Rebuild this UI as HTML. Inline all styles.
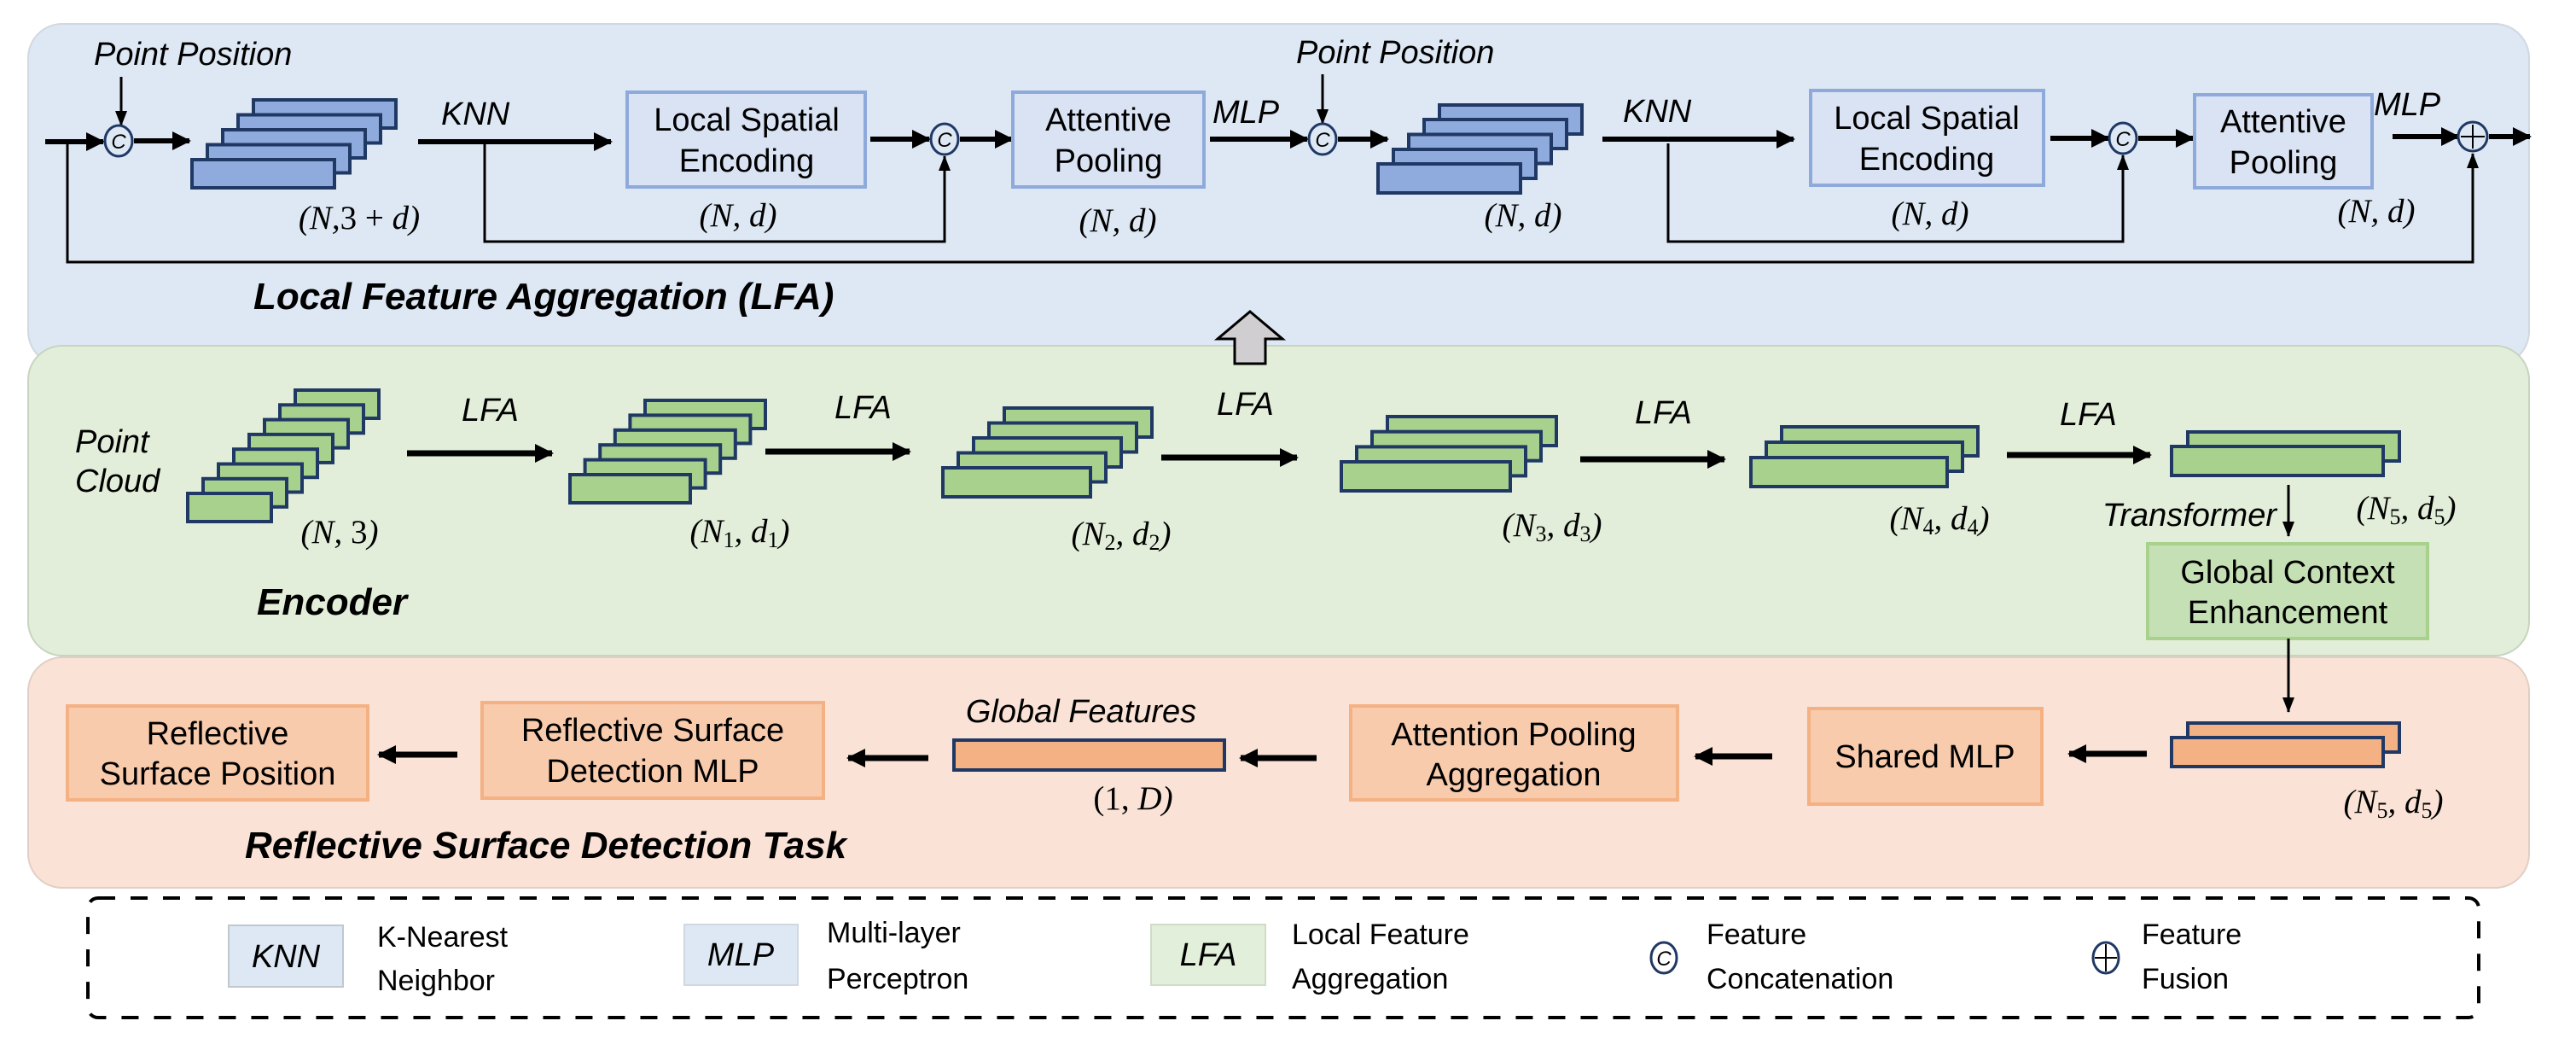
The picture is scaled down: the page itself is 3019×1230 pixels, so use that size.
<!DOCTYPE html>
<html><head><meta charset="utf-8"><style>
html,body{margin:0;padding:0;background:#fff}
svg{display:block}
text{font-family:"Liberation Sans",sans-serif;fill:#000}
.t{font-size:38px}
.l{font-size:34px}
.i{font-size:38px;font-style:italic}
.b{font-size:44px;font-style:italic;font-weight:bold}
.m{font-family:"Liberation Serif",serif;font-size:39px;font-style:italic}
.u{font-style:normal}
</style></head><body>
<svg width="3019" height="1230" viewBox="0 0 3019 1230" xmlns="http://www.w3.org/2000/svg">
<defs>
<marker id="a" markerUnits="userSpaceOnUse" markerWidth="24" markerHeight="24" refX="20" refY="12" orient="auto"><path d="M0,1 L22,12 L0,23 Z" fill="#000"/></marker>
<marker id="s" markerUnits="userSpaceOnUse" markerWidth="18" markerHeight="18" refX="17" refY="9" orient="auto"><path d="M0,2 L18,9 L0,16 Z" fill="#000"/></marker>
</defs>
<!-- panels -->
<rect x="33" y="28" width="2931" height="400" rx="40" fill="#dee8f4" stroke="#d0d8e0" stroke-width="2"/>
<rect x="33" y="405" width="2931" height="363" rx="40" fill="#e2eed9" stroke="#c8d4c0" stroke-width="2"/>
<rect x="33" y="770" width="2931" height="270" rx="40" fill="#fae3d6" stroke="#e0cfc6" stroke-width="2"/>
<rect x="103" y="1052" width="2802" height="140" rx="12" fill="none" stroke="#000" stroke-width="4" stroke-dasharray="20 18"/>

<!-- ===== LFA top ===== -->
<text class="i" x="110" y="76">Point Position</text>
<line x1="142" y1="90" x2="142" y2="147" stroke="#000" stroke-width="3" marker-end="url(#s)"/>
<line x1="53" y1="166" x2="121" y2="166" stroke="#000" stroke-width="6" marker-end="url(#a)"/>
<polyline points="79,166 79,307 2898,307 2898,180" fill="none" stroke="#000" stroke-width="3" marker-end="url(#s)"/>
<ellipse cx="139" cy="165" rx="16" ry="18" fill="#dee8f4" stroke="#1f3864" stroke-width="3"/>
<text x="139" y="174" font-size="24" font-style="italic" text-anchor="middle">C</text>
<line x1="157" y1="165" x2="222" y2="165" stroke="#000" stroke-width="6" marker-end="url(#a)"/>
<g fill="#8faadc" stroke="#1f3864" stroke-width="4">
<rect x="297" y="117" width="167" height="33"/><rect x="279" y="134.5" width="167" height="33"/><rect x="261" y="152" width="167" height="33"/><rect x="243" y="169.5" width="167" height="33"/><rect x="225" y="187" width="167" height="33"/>
</g>
<text class="m" x="421" y="268" text-anchor="middle">(N,<tspan class="u">3 + </tspan>d)</text>
<text class="i" x="517" y="146">KNN</text>
<line x1="490" y1="166" x2="716" y2="166" stroke="#000" stroke-width="6" marker-end="url(#a)"/>
<polyline points="568,168 568,283 1107,283 1107,183" fill="none" stroke="#000" stroke-width="3" marker-end="url(#s)"/>
<rect x="735" y="108" width="279" height="111" fill="#dae3f3" stroke="#8eaadb" stroke-width="4"/>
<text class="t" x="875" y="153" text-anchor="middle">Local Spatial</text>
<text class="t" x="875" y="201" text-anchor="middle">Encoding</text>
<text class="m" x="865" y="265" text-anchor="middle">(N, d)</text>
<line x1="1020" y1="163" x2="1089" y2="163" stroke="#000" stroke-width="6" marker-end="url(#a)"/>
<ellipse cx="1107" cy="163" rx="16" ry="18" fill="#dee8f4" stroke="#1f3864" stroke-width="3"/>
<text x="1107" y="172" font-size="24" font-style="italic" text-anchor="middle">C</text>
<line x1="1125" y1="163" x2="1186" y2="163" stroke="#000" stroke-width="6" marker-end="url(#a)"/>
<rect x="1187" y="108" width="224" height="111" fill="#dae3f3" stroke="#8eaadb" stroke-width="4"/>
<text class="t" x="1299" y="153" text-anchor="middle">Attentive</text>
<text class="t" x="1299" y="201" text-anchor="middle">Pooling</text>
<text class="m" x="1310" y="271" text-anchor="middle">(N, d)</text>
<text class="i" x="1421" y="144">MLP</text>
<line x1="1418" y1="163" x2="1532" y2="163" stroke="#000" stroke-width="6" marker-end="url(#a)"/>
<text class="i" x="1519" y="74">Point Position</text>
<line x1="1550" y1="87" x2="1550" y2="145" stroke="#000" stroke-width="3" marker-end="url(#s)"/>
<ellipse cx="1550" cy="163" rx="16" ry="18" fill="#dee8f4" stroke="#1f3864" stroke-width="3"/>
<text x="1550" y="172" font-size="24" font-style="italic" text-anchor="middle">C</text>
<line x1="1568" y1="163" x2="1626" y2="163" stroke="#000" stroke-width="6" marker-end="url(#a)"/>
<g fill="#8faadc" stroke="#1f3864" stroke-width="4">
<rect x="1687" y="123" width="167" height="34"/><rect x="1669" y="140" width="167" height="34"/><rect x="1651" y="157.5" width="167" height="34"/><rect x="1633" y="175" width="167" height="34"/><rect x="1615" y="192" width="167" height="34"/>
</g>
<text class="m" x="1785" y="265" text-anchor="middle">(N, d)</text>
<text class="i" x="1902" y="143">KNN</text>
<line x1="1878" y1="163" x2="2102" y2="163" stroke="#000" stroke-width="6" marker-end="url(#a)"/>
<polyline points="1955,168 1955,283 2488,283 2488,182" fill="none" stroke="#000" stroke-width="3" marker-end="url(#s)"/>
<rect x="2122" y="106" width="273" height="111" fill="#dae3f3" stroke="#8eaadb" stroke-width="4"/>
<text class="t" x="2258" y="151" text-anchor="middle">Local Spatial</text>
<text class="t" x="2258" y="199" text-anchor="middle">Encoding</text>
<text class="m" x="2262" y="263" text-anchor="middle">(N, d)</text>
<line x1="2403" y1="162" x2="2471" y2="162" stroke="#000" stroke-width="6" marker-end="url(#a)"/>
<ellipse cx="2488" cy="162" rx="16" ry="18" fill="#dee8f4" stroke="#1f3864" stroke-width="3"/>
<text x="2488" y="171" font-size="24" font-style="italic" text-anchor="middle">C</text>
<line x1="2506" y1="162" x2="2570" y2="162" stroke="#000" stroke-width="6" marker-end="url(#a)"/>
<rect x="2572" y="111" width="208" height="109" fill="#dae3f3" stroke="#8eaadb" stroke-width="4"/>
<text class="t" x="2676" y="155" text-anchor="middle">Attentive</text>
<text class="t" x="2676" y="203" text-anchor="middle">Pooling</text>
<text class="m" x="2785" y="260" text-anchor="middle">(N, d)</text>
<text class="i" x="2782" y="135">MLP</text>
<line x1="2804" y1="160" x2="2881" y2="160" stroke="#000" stroke-width="6" marker-end="url(#a)"/>
<circle cx="2898" cy="160" r="17" fill="#dee8f4" stroke="#1f3864" stroke-width="3"/>
<line x1="2884" y1="160" x2="2912" y2="160" stroke="#000" stroke-width="2"/>
<line x1="2898" y1="146" x2="2898" y2="174" stroke="#000" stroke-width="2"/>
<line x1="2917" y1="160" x2="2965" y2="160" stroke="#000" stroke-width="6" marker-end="url(#a)"/>
<text class="b" x="297" y="362">Local Feature Aggregation (LFA)</text>
<path d="M1465,365 L1503,397 L1483,397 L1483,426 L1447,426 L1447,397 L1427,397 Z" fill="#d0ced0" stroke="#000" stroke-width="3"/>

<!-- ===== Encoder ===== -->
<text class="i" x="88" y="530">Point</text>
<text class="i" x="88" y="576">Cloud</text>
<g fill="#a9d18e" stroke="#1f3864" stroke-width="4">
<rect x="346" y="457" width="98" height="33"/><rect x="328" y="474.3" width="98" height="33"/><rect x="310" y="491.6" width="98" height="33"/><rect x="292" y="508.9" width="98" height="33"/><rect x="274" y="526.2" width="98" height="33"/><rect x="256" y="543.5" width="98" height="33"/><rect x="238" y="560.8" width="98" height="33"/><rect x="220" y="578" width="98" height="33"/>
</g>
<text class="m" x="398" y="636" text-anchor="middle">(N, <tspan class="u">3</tspan>)</text>
<text class="i" x="541" y="493">LFA</text>
<line x1="477" y1="531" x2="647" y2="531" stroke="#000" stroke-width="7" marker-end="url(#a)"/>
<g fill="#a9d18e" stroke="#1f3864" stroke-width="4">
<rect x="756" y="469" width="141" height="33"/><rect x="738.4" y="486.4" width="141" height="33"/><rect x="720.8" y="503.8" width="141" height="33"/><rect x="703.2" y="521.2" width="141" height="33"/><rect x="685.6" y="538.6" width="141" height="33"/><rect x="668" y="556" width="141" height="33"/>
</g>
<text class="m" x="867" y="635" text-anchor="middle">(N<tspan class="u" font-size="26" dy="6">1</tspan><tspan dy="-6">, d</tspan><tspan class="u" font-size="26" dy="6">1</tspan><tspan dy="-6">)</tspan></text>
<text class="i" x="978" y="490">LFA</text>
<line x1="897" y1="529" x2="1066" y2="529" stroke="#000" stroke-width="7" marker-end="url(#a)"/>
<g fill="#a9d18e" stroke="#1f3864" stroke-width="4">
<rect x="1177" y="478" width="173" height="34"/><rect x="1159" y="495.5" width="173" height="34"/><rect x="1141" y="513" width="173" height="34"/><rect x="1123" y="530.5" width="173" height="34"/><rect x="1105" y="548" width="173" height="34"/>
</g>
<text class="m" x="1314" y="638" text-anchor="middle">(N<tspan class="u" font-size="26" dy="6">2</tspan><tspan dy="-6">, d</tspan><tspan class="u" font-size="26" dy="6">2</tspan><tspan dy="-6">)</tspan></text>
<text class="i" x="1426" y="486">LFA</text>
<line x1="1361" y1="536" x2="1520" y2="536" stroke="#000" stroke-width="7" marker-end="url(#a)"/>
<g fill="#a9d18e" stroke="#1f3864" stroke-width="4">
<rect x="1626" y="488" width="198" height="34"/><rect x="1608" y="505.7" width="198" height="34"/><rect x="1590" y="523.4" width="198" height="34"/><rect x="1572" y="541" width="198" height="34"/>
</g>
<text class="m" x="1819" y="628" text-anchor="middle">(N<tspan class="u" font-size="26" dy="6">3</tspan><tspan dy="-6">, d</tspan><tspan class="u" font-size="26" dy="6">3</tspan><tspan dy="-6">)</tspan></text>
<text class="i" x="1916" y="496">LFA</text>
<line x1="1852" y1="538" x2="2021" y2="538" stroke="#000" stroke-width="7" marker-end="url(#a)"/>
<g fill="#a9d18e" stroke="#1f3864" stroke-width="4">
<rect x="2088" y="500" width="230" height="34"/><rect x="2070" y="518" width="230" height="34"/><rect x="2052" y="536" width="230" height="34"/>
</g>
<text class="m" x="2273" y="620" text-anchor="middle">(N<tspan class="u" font-size="26" dy="6">4</tspan><tspan dy="-6">, d</tspan><tspan class="u" font-size="26" dy="6">4</tspan><tspan dy="-6">)</tspan></text>
<text class="i" x="2414" y="498">LFA</text>
<line x1="2352" y1="533" x2="2520" y2="533" stroke="#000" stroke-width="7" marker-end="url(#a)"/>
<g fill="#a9d18e" stroke="#1f3864" stroke-width="4">
<rect x="2564" y="506" width="248" height="34"/><rect x="2545" y="523" width="248" height="34"/>
</g>
<text class="i" x="2668" y="616" text-anchor="end">Transformer</text>
<line x1="2682" y1="568" x2="2682" y2="628" stroke="#000" stroke-width="3" marker-end="url(#s)"/>
<text class="m" x="2820" y="608" text-anchor="middle">(N<tspan class="u" font-size="26" dy="6">5</tspan><tspan dy="-6">, d</tspan><tspan class="u" font-size="26" dy="6">5</tspan><tspan dy="-6">)</tspan></text>
<rect x="2517" y="637" width="328" height="111" fill="#c5e0b4" stroke="#a9d18e" stroke-width="4"/>
<text class="t" x="2681" y="683" text-anchor="middle">Global Context</text>
<text class="t" x="2681" y="730" text-anchor="middle">Enhancement</text>
<text class="b" x="301" y="720">Encoder</text>

<!-- ===== Task ===== -->
<line x1="2682" y1="748" x2="2682" y2="834" stroke="#000" stroke-width="3" marker-end="url(#s)"/>
<g fill="#f4b183" stroke="#1f3864" stroke-width="4">
<rect x="2564" y="847" width="248" height="34"/><rect x="2545" y="864" width="248" height="34"/>
</g>
<text class="m" x="2805" y="952" text-anchor="middle">(N<tspan class="u" font-size="26" dy="6">5</tspan><tspan dy="-6">, d</tspan><tspan class="u" font-size="26" dy="6">5</tspan><tspan dy="-6">)</tspan></text>
<line x1="2516" y1="883" x2="2425" y2="883" stroke="#000" stroke-width="7" marker-end="url(#a)"/>
<rect x="2120" y="830" width="273" height="112" fill="#f8cbad" stroke="#f4b183" stroke-width="4"/>
<text class="t" x="2256" y="899" text-anchor="middle">Shared MLP</text>
<line x1="2077" y1="886" x2="1987" y2="886" stroke="#000" stroke-width="7" marker-end="url(#a)"/>
<rect x="1583" y="827" width="383" height="110" fill="#f8cbad" stroke="#f4b183" stroke-width="4"/>
<text class="t" x="1774" y="873" text-anchor="middle">Attention Pooling</text>
<text class="t" x="1774" y="920" text-anchor="middle">Aggregation</text>
<line x1="1543" y1="888" x2="1454" y2="888" stroke="#000" stroke-width="7" marker-end="url(#a)"/>
<rect x="1118" y="867" width="317" height="35" fill="#f4b183" stroke="#1f3864" stroke-width="4"/>
<text class="i" x="1267" y="846" text-anchor="middle">Global Features</text>
<text class="m" x="1328" y="948" text-anchor="middle"><tspan class="u">(1,  </tspan>D)</text>
<line x1="1088" y1="888" x2="994" y2="888" stroke="#000" stroke-width="7" marker-end="url(#a)"/>
<rect x="565" y="823" width="400" height="112" fill="#f8cbad" stroke="#f4b183" stroke-width="4"/>
<text class="t" x="765" y="868" text-anchor="middle">Reflective Surface</text>
<text class="t" x="765" y="916" text-anchor="middle">Detection MLP</text>
<line x1="536" y1="884" x2="444" y2="884" stroke="#000" stroke-width="7" marker-end="url(#a)"/>
<rect x="79" y="827" width="352" height="110" fill="#f8cbad" stroke="#f4b183" stroke-width="4"/>
<text class="t" x="255" y="872" text-anchor="middle">Reflective</text>
<text class="t" x="255" y="919" text-anchor="middle">Surface Position</text>
<text class="b" x="287" y="1005">Reflective Surface Detection Task</text>

<!-- ===== Legend ===== -->
<rect x="268" y="1084" width="134" height="72" fill="#dee8f4" stroke="#c0c8d0" stroke-width="2"/>
<text class="i" x="335" y="1133" text-anchor="middle">KNN</text>
<text class="l" x="442" y="1109">K-Nearest</text>
<text class="l" x="442" y="1160">Neighbor</text>
<rect x="802" y="1083" width="133" height="71" fill="#dee8f4" stroke="#d0d8e0" stroke-width="2"/>
<text class="i" x="868" y="1131" text-anchor="middle">MLP</text>
<text class="l" x="969" y="1104">Multi-layer</text>
<text class="l" x="969" y="1158">Perceptron</text>
<rect x="1349" y="1083" width="134" height="71" fill="#e2efda" stroke="#d0dcc8" stroke-width="2"/>
<text class="i" x="1416" y="1131" text-anchor="middle">LFA</text>
<text class="l" x="1514" y="1106">Local Feature</text>
<text class="l" x="1514" y="1158">Aggregation</text>
<ellipse cx="1950" cy="1122" rx="15" ry="18" fill="#fff" stroke="#1f3864" stroke-width="3"/>
<text x="1950" y="1131" font-size="24" font-style="italic" text-anchor="middle">C</text>
<text class="l" x="2000" y="1106">Feature</text>
<text class="l" x="2000" y="1158">Concatenation</text>
<ellipse cx="2468" cy="1122" rx="15" ry="18" fill="#fff" stroke="#1f3864" stroke-width="3"/>
<line x1="2455" y1="1122" x2="2481" y2="1122" stroke="#000" stroke-width="2"/>
<line x1="2468" y1="1106" x2="2468" y2="1138" stroke="#000" stroke-width="2"/>
<text class="l" x="2510" y="1106">Feature</text>
<text class="l" x="2510" y="1158">Fusion</text>
</svg>
</body></html>
